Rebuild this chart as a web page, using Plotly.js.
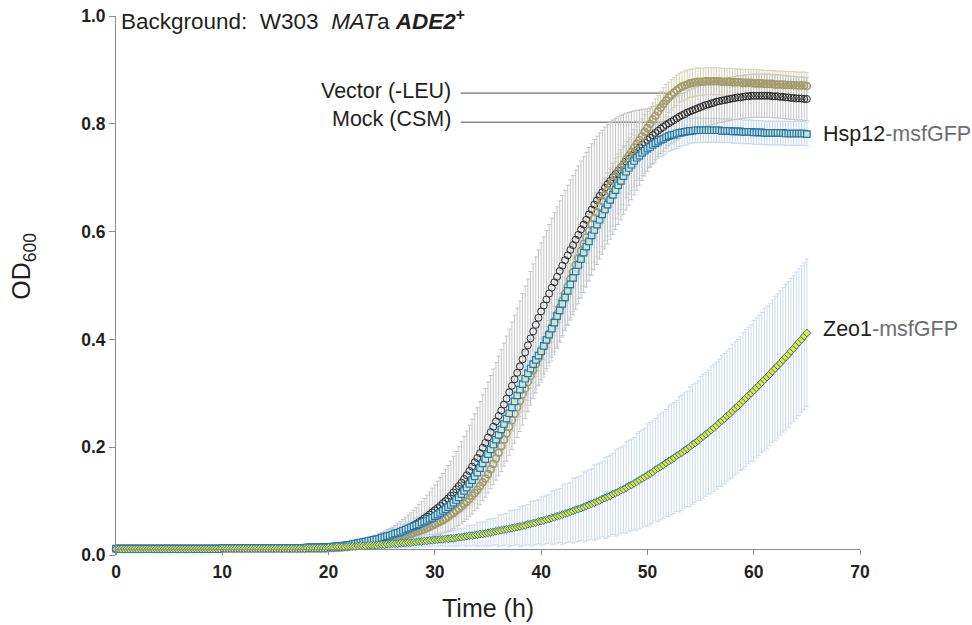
<!DOCTYPE html>
<html>
<head>
<meta charset="utf-8">
<script src="https://cdn.plot.ly/plotly-3.0.1.min.js"></script>
<style>
  html, body { margin: 0; padding: 0; background: #ffffff; }
  #chart { width: 972px; height: 625px; }
</style>
</head>
<body>
<div id="chart"></div>
<script>
// Sampling times (h), one reading every 15 min
const timeH = [
  0,0.25,0.5,0.75,1,1.25,1.5,1.75,2,2.25,2.5,2.75,3,3.25,3.5,3.75,4,4.25,4.5,4.75,
  5,5.25,5.5,5.75,6,6.25,6.5,6.75,7,7.25,7.5,7.75,8,8.25,8.5,8.75,9,9.25,9.5,9.75,
  10,10.25,10.5,10.75,11,11.25,11.5,11.75,12,12.25,12.5,12.75,13,13.25,13.5,13.75,14,14.25,14.5,14.75,
  15,15.25,15.5,15.75,16,16.25,16.5,16.75,17,17.25,17.5,17.75,18,18.25,18.5,18.75,19,19.25,19.5,19.75,
  20,20.25,20.5,20.75,21,21.25,21.5,21.75,22,22.25,22.5,22.75,23,23.25,23.5,23.75,24,24.25,24.5,24.75,
  25,25.25,25.5,25.75,26,26.25,26.5,26.75,27,27.25,27.5,27.75,28,28.25,28.5,28.75,29,29.25,29.5,29.75,
  30,30.25,30.5,30.75,31,31.25,31.5,31.75,32,32.25,32.5,32.75,33,33.25,33.5,33.75,34,34.25,34.5,34.75,
  35,35.25,35.5,35.75,36,36.25,36.5,36.75,37,37.25,37.5,37.75,38,38.25,38.5,38.75,39,39.25,39.5,39.75,
  40,40.25,40.5,40.75,41,41.25,41.5,41.75,42,42.25,42.5,42.75,43,43.25,43.5,43.75,44,44.25,44.5,44.75,
  45,45.25,45.5,45.75,46,46.25,46.5,46.75,47,47.25,47.5,47.75,48,48.25,48.5,48.75,49,49.25,49.5,49.75,
  50,50.25,50.5,50.75,51,51.25,51.5,51.75,52,52.25,52.5,52.75,53,53.25,53.5,53.75,54,54.25,54.5,54.75,
  55,55.25,55.5,55.75,56,56.25,56.5,56.75,57,57.25,57.5,57.75,58,58.25,58.5,58.75,59,59.25,59.5,59.75,
  60,60.25,60.5,60.75,61,61.25,61.5,61.75,62,62.25,62.5,62.75,63,63.25,63.5,63.75,64,64.25,64.5,64.75,
  65
];

// Mock (CSM): mean OD600 and SD
const mockOD = [
  0.012,0.012,0.012,0.012,0.012,0.012,0.012,0.012,0.012,0.012,0.012,0.012,0.012,0.012,0.012,0.012,0.012,0.012,0.012,0.012,
  0.012,0.012,0.012,0.012,0.012,0.012,0.012,0.012,0.012,0.012,0.012,0.012,0.012,0.012,0.012,0.012,0.012,0.012,0.012,0.012,
  0.013,0.013,0.013,0.013,0.013,0.013,0.013,0.013,0.013,0.013,0.013,0.013,0.013,0.013,0.013,0.013,0.013,0.013,0.013,0.013,
  0.013,0.013,0.013,0.013,0.013,0.013,0.013,0.013,0.013,0.013,0.013,0.013,
  0.014,0.014,0.014,0.014,
  0.014,0.014,0.015,0.015,
  0.015,0.015,0.016,0.016,
  0.017,0.017,0.018,0.018,
  0.019,0.020,0.021,0.021,
  0.022,0.023,0.024,0.025,
  0.026,0.027,0.028,0.030,
  0.031,0.032,0.034,0.035,
  0.037,0.039,0.041,0.043,
  0.045,0.047,0.050,0.052,
  0.055,0.058,0.061,0.064,
  0.068,0.071,0.075,0.079,
  0.083,0.087,0.091,0.096,
  0.100,0.105,0.110,0.116,
  0.122,0.128,0.134,0.141,
  0.148,0.156,0.164,0.172,
  0.180,0.189,0.199,0.208,
  0.218,0.228,0.238,0.248,
  0.258,0.268,0.279,0.290,
  0.302,0.314,0.326,0.338,
  0.350,0.363,0.376,0.389,
  0.402,0.415,0.427,0.440,
  0.452,0.463,0.474,0.485,
  0.496,0.506,0.516,0.527,
  0.537,0.547,0.556,0.566,
  0.575,0.585,0.594,0.604,
  0.613,0.622,0.632,0.641,
  0.650,0.658,0.666,0.673,
  0.681,0.688,0.694,0.701,
  0.707,0.713,0.719,0.725,
  0.730,0.735,0.741,0.746,
  0.751,0.756,0.761,0.765,
  0.770,0.774,0.779,0.783,
  0.787,0.791,0.794,0.798,
  0.801,0.804,0.807,0.810,
  0.813,0.816,0.818,0.821,
  0.823,0.825,0.827,0.829,
  0.831,0.833,0.835,0.836,
  0.838,0.839,0.841,0.842,
  0.843,0.844,0.845,0.846,
  0.847,0.848,0.849,0.849,
  0.850,0.851,0.851,0.852,
  0.852,0.852,0.852,0.852,
  0.852,0.852,0.852,0.851,
  0.851,0.851,0.850,0.850,
  0.849,0.849,0.848,0.848,
  0.847,0.847,0.847,0.846,
  0.846
];
const mockSD = [
  0.002,0.002,0.002,0.002,0.002,0.002,0.002,0.002,0.002,0.002,0.002,0.002,0.002,0.002,0.002,0.002,0.002,0.002,0.002,0.002,
  0.002,0.002,0.002,0.002,0.002,0.002,0.002,0.002,0.002,0.002,0.002,0.002,0.002,0.002,0.002,0.002,0.002,0.002,0.002,0.002,
  0.002,0.002,0.002,0.002,0.002,0.002,0.002,0.002,0.002,0.002,0.002,0.002,0.002,0.002,0.002,0.002,0.002,0.002,0.002,0.002,
  0.002,0.002,0.002,0.002,0.002,0.002,0.002,0.002,0.002,0.002,0.002,0.002,0.002,0.002,0.002,0.002,0.002,0.002,0.002,0.002,
  0.003,0.003,0.003,0.003,
  0.003,0.003,0.003,0.003,
  0.004,0.004,0.005,0.005,
  0.006,0.006,0.007,0.007,
  0.008,0.009,0.009,0.010,
  0.011,0.012,0.013,0.014,
  0.015,0.016,0.018,0.019,
  0.021,0.023,0.024,0.026,
  0.028,0.030,0.033,0.035,
  0.037,0.040,0.042,0.045,
  0.047,0.050,0.053,0.055,
  0.058,0.061,0.064,0.067,
  0.070,0.073,0.076,0.079,
  0.082,0.085,0.088,0.090,
  0.093,0.096,0.098,0.101,
  0.103,0.105,0.107,0.109,
  0.111,0.113,0.114,0.116,
  0.117,0.118,0.119,0.120,
  0.121,0.122,0.123,0.123,
  0.124,0.125,0.126,0.126,
  0.127,0.127,0.128,0.128,
  0.129,0.129,0.130,0.130,
  0.130,0.130,0.130,0.130,
  0.129,0.129,0.128,0.127,
  0.126,0.125,0.124,0.122,
  0.121,0.119,0.117,0.115,
  0.113,0.111,0.108,0.106,
  0.103,0.100,0.097,0.093,
  0.090,0.086,0.082,0.078,
  0.074,0.070,0.066,0.062,
  0.058,0.055,0.053,0.050,
  0.048,0.046,0.045,0.043,
  0.042,0.041,0.041,0.040,
  0.040,0.040,0.040,0.040,0.040,0.040,0.040,0.040,0.040,0.040,0.040,0.040,0.040,0.040,0.040,0.040,0.040,0.040,0.040,0.040,
  0.040,0.040,0.040,0.040,0.040,0.040,0.040,0.040,0.040,0.040,0.040,0.040,0.040,0.040,0.040,0.040,0.040,0.040,0.040,0.040,
  0.040,0.040,0.040,0.040,0.040,0.040,0.040,0.040,
  0.040
];

// Vector (-LEU)
const vectorOD = [
  0.011,0.011,0.011,0.011,0.011,0.011,0.011,0.011,0.011,0.011,0.011,0.011,0.011,0.011,0.011,0.011,0.011,0.011,0.011,0.011,
  0.011,0.011,0.011,0.011,0.011,0.011,0.011,0.011,0.011,0.011,0.011,0.011,0.011,0.011,0.011,0.011,0.011,0.011,0.011,0.011,
  0.012,0.012,0.012,0.012,0.012,0.012,0.012,0.012,0.012,0.012,0.012,0.012,0.012,0.012,0.012,0.012,0.012,0.012,0.012,0.012,
  0.012,0.012,0.012,0.012,0.012,0.012,0.012,0.012,0.012,0.012,0.012,0.012,0.012,0.012,0.012,0.012,0.012,0.012,0.012,0.012,
  0.013,0.013,0.013,0.013,
  0.014,0.014,0.015,0.015,
  0.016,0.017,0.017,0.018,
  0.019,0.020,0.020,0.021,
  0.022,0.023,0.024,0.024,
  0.025,0.026,0.027,0.028,
  0.029,0.030,0.032,0.033,
  0.035,0.036,0.038,0.039,
  0.041,0.043,0.044,0.046,
  0.048,0.050,0.052,0.055,
  0.057,0.060,0.062,0.065,
  0.068,0.071,0.075,0.078,
  0.082,0.086,0.090,0.095,
  0.099,0.104,0.110,0.115,
  0.121,0.128,0.135,0.142,
  0.150,0.159,0.169,0.179,
  0.190,0.202,0.214,0.226,
  0.238,0.250,0.262,0.274,
  0.286,0.298,0.309,0.321,
  0.332,0.343,0.354,0.365,
  0.376,0.387,0.399,0.410,
  0.422,0.434,0.447,0.459,
  0.472,0.485,0.498,0.512,
  0.525,0.538,0.551,0.564,
  0.577,0.589,0.601,0.613,
  0.625,0.636,0.646,0.657,
  0.667,0.676,0.685,0.694,
  0.703,0.711,0.719,0.726,
  0.734,0.741,0.748,0.756,
  0.763,0.770,0.777,0.785,
  0.792,0.800,0.808,0.815,
  0.823,0.830,0.837,0.843,
  0.849,0.854,0.858,0.862,
  0.866,0.869,0.871,0.873,
  0.875,0.876,0.877,0.878,
  0.878,0.878,0.879,0.879,
  0.879,0.879,0.879,0.879,
  0.878,0.878,0.878,0.878,
  0.877,0.877,0.877,0.877,
  0.876,0.876,0.876,0.876,
  0.875,0.875,0.875,0.875,
  0.874,0.874,0.874,0.874,
  0.873,0.873,0.873,0.873,
  0.872,0.872,0.872,0.872,
  0.871,0.871,0.871,0.871,
  0.870
];
const vectorSD = [
  0.001,0.001,0.001,0.001,0.001,0.001,0.001,0.001,0.001,0.001,0.001,0.001,0.001,0.001,0.001,0.001,0.001,0.001,0.001,0.001,
  0.001,0.001,0.001,0.001,0.001,0.001,0.001,0.001,0.001,0.001,0.001,0.001,0.001,0.001,0.001,0.001,0.001,0.001,0.001,0.001,
  0.001,0.001,0.001,0.001,0.001,0.001,0.001,0.001,0.001,0.001,0.001,0.001,0.001,0.001,0.001,0.001,0.001,0.001,0.001,0.001,
  0.001,0.001,0.001,0.001,0.001,0.001,0.001,0.001,0.001,0.001,0.001,0.001,0.001,0.001,0.001,0.001,0.001,0.001,0.001,0.001,
  0.002,0.002,0.002,0.002,0.002,0.002,0.002,0.002,0.002,0.002,0.002,0.002,0.002,0.002,0.002,0.002,0.002,0.002,0.002,0.002,
  0.003,0.003,0.003,0.003,
  0.004,0.004,0.004,0.004,
  0.005,0.005,0.005,0.005,
  0.006,0.006,0.006,0.006,
  0.007,0.007,0.007,0.007,
  0.008,0.008,0.008,0.008,
  0.009,0.009,0.009,0.009,
  0.010,0.010,0.010,0.010,
  0.012,0.012,0.012,0.012,
  0.013,0.013,0.013,0.013,
  0.015,0.015,0.015,0.015,
  0.017,0.017,0.017,0.017,
  0.019,0.019,0.019,0.019,
  0.021,0.021,0.021,0.021,
  0.023,0.023,0.023,0.023,
  0.025,0.025,0.025,0.025,
  0.027,0.027,0.027,0.027,
  0.029,0.029,0.029,0.029,
  0.030,0.030,0.030,0.030,
  0.031,0.031,0.031,0.031,
  0.032,0.032,0.032,0.032,
  0.033,0.033,0.033,0.033,
  0.033,0.033,0.033,0.033,
  0.033,0.033,0.033,0.033,
  0.032,0.032,0.032,0.032,
  0.031,0.031,0.031,0.031,
  0.030,0.030,0.030,0.030,
  0.028,0.028,0.028,0.028,
  0.027,0.027,0.027,0.027,
  0.026,0.026,0.026,0.026,
  0.025,0.025,0.025,0.025,0.025,0.025,0.025,0.025,0.025,0.025,0.025,0.025,0.025,0.025,0.025,0.025,0.025,0.025,0.025,0.025,
  0.025,0.025,0.025,0.025,0.025,0.025,0.025,0.025,0.025,0.025,0.025,0.025,0.025,0.025,0.025,0.025,0.025,0.025,0.025,0.025,
  0.025
];

// Hsp12-msfGFP
const hsp12OD = [
  0.012,0.012,0.012,0.012,0.012,0.012,0.012,0.012,0.012,0.012,0.012,0.012,0.012,0.012,0.012,0.012,0.012,0.012,0.012,0.012,
  0.012,0.012,0.012,0.012,0.012,0.012,0.012,0.012,0.012,0.012,0.012,0.012,0.012,0.012,0.012,0.012,0.012,0.012,0.012,0.012,
  0.013,0.013,0.013,0.013,0.013,0.013,0.013,0.013,0.013,0.013,0.013,0.013,0.013,0.013,0.013,0.013,0.013,0.013,0.013,0.013,
  0.013,0.013,0.013,0.013,0.013,0.013,0.013,0.013,0.013,0.013,0.013,0.013,
  0.014,0.014,0.014,0.014,
  0.014,0.014,0.014,0.014,
  0.015,0.015,0.016,0.016,
  0.017,0.017,0.018,0.018,
  0.019,0.020,0.021,0.022,
  0.023,0.024,0.025,0.026,
  0.027,0.028,0.029,0.030,
  0.032,0.033,0.035,0.036,
  0.038,0.040,0.041,0.043,
  0.045,0.047,0.049,0.051,
  0.053,0.055,0.057,0.060,
  0.062,0.064,0.067,0.069,
  0.072,0.075,0.078,0.082,
  0.085,0.089,0.093,0.097,
  0.102,0.107,0.113,0.119,
  0.125,0.132,0.139,0.146,
  0.153,0.161,0.170,0.178,
  0.187,0.196,0.205,0.214,
  0.223,0.233,0.243,0.253,
  0.263,0.274,0.285,0.296,
  0.307,0.317,0.327,0.337,
  0.346,0.354,0.362,0.370,
  0.378,0.388,0.399,0.409,
  0.420,0.431,0.443,0.454,
  0.466,0.478,0.490,0.502,
  0.514,0.526,0.538,0.549,
  0.561,0.572,0.582,0.593,
  0.603,0.613,0.622,0.632,
  0.641,0.650,0.659,0.668,
  0.677,0.686,0.694,0.703,
  0.711,0.718,0.724,0.731,
  0.737,0.741,0.746,0.750,
  0.754,0.757,0.761,0.764,
  0.767,0.770,0.772,0.775,
  0.777,0.779,0.780,0.782,
  0.783,0.784,0.785,0.786,
  0.787,0.787,0.788,0.788,
  0.788,0.788,0.788,0.788,
  0.788,0.788,0.788,0.788,
  0.787,0.787,0.787,0.787,
  0.786,0.786,0.786,0.786,
  0.785,0.785,0.785,0.785,
  0.784,0.784,0.784,0.784,
  0.783,0.783,0.783,0.783,
  0.783,0.783,0.783,0.783,
  0.782,0.782,0.782,0.782,
  0.782,0.782,0.782,0.782,
  0.781
];
const hsp12SD = [
  0.002,0.002,0.002,0.002,0.002,0.002,0.002,0.002,0.002,0.002,0.002,0.002,0.002,0.002,0.002,0.002,0.002,0.002,0.002,0.002,
  0.002,0.002,0.002,0.002,0.002,0.002,0.002,0.002,0.002,0.002,0.002,0.002,0.002,0.002,0.002,0.002,0.002,0.002,0.002,0.002,
  0.002,0.002,0.002,0.002,0.002,0.002,0.002,0.002,0.002,0.002,0.002,0.002,0.002,0.002,0.002,0.002,0.002,0.002,0.002,0.002,
  0.002,0.002,0.002,0.002,0.002,0.002,0.002,0.002,0.002,0.002,0.002,0.002,0.002,0.002,0.002,0.002,0.002,0.002,0.002,0.002,
  0.003,0.003,0.003,0.003,
  0.003,0.003,0.003,0.003,
  0.004,0.004,0.004,0.004,
  0.005,0.005,0.005,0.005,
  0.006,0.006,0.006,0.006,
  0.008,0.008,0.008,0.008,
  0.010,0.010,0.010,0.010,
  0.012,0.012,0.012,0.012,
  0.014,0.014,0.014,0.014,
  0.016,0.016,0.016,0.016,
  0.018,0.018,0.018,0.018,
  0.021,0.021,0.021,0.021,
  0.024,0.024,0.024,0.024,
  0.027,0.027,0.027,0.027,
  0.031,0.031,0.031,0.031,
  0.035,0.035,0.035,0.035,
  0.040,0.040,0.040,0.040,
  0.045,0.045,0.045,0.045,
  0.050,0.050,0.050,0.050,
  0.054,0.054,0.054,0.054,
  0.058,0.058,0.058,0.058,
  0.060,0.060,0.060,0.060,
  0.062,0.062,0.062,0.062,
  0.062,0.062,0.062,0.062,
  0.062,0.062,0.062,0.062,
  0.060,0.060,0.060,0.060,
  0.058,0.058,0.058,0.058,
  0.053,0.053,0.053,0.053,
  0.048,0.048,0.048,0.048,
  0.042,0.042,0.042,0.042,
  0.036,0.036,0.036,0.036,
  0.031,0.031,0.031,0.031,
  0.028,0.028,0.028,0.028,
  0.025,0.025,0.025,0.025,
  0.023,0.023,0.023,0.023,
  0.022,0.022,0.022,0.022,0.022,0.022,0.022,0.022,0.022,0.022,0.022,0.022,0.022,0.022,0.022,0.022,0.022,0.022,0.022,0.022,
  0.022,0.022,0.022,0.022,0.022,0.022,0.022,0.022,0.022,0.022,0.022,0.022,0.022,0.022,0.022,0.022,0.022,0.022,0.022,0.022,
  0.022
];

// Zeo1-msfGFP
const zeo1OD = [
  0.011,0.011,0.011,0.011,0.011,0.011,0.011,0.011,0.011,0.011,0.011,0.011,0.011,0.011,0.011,0.011,0.011,0.011,0.011,0.011,
  0.011,0.011,0.011,0.011,0.011,0.011,0.011,0.011,0.011,0.011,0.011,0.011,0.011,0.011,0.011,0.011,0.011,0.011,0.011,0.011,
  0.012,0.012,0.012,0.012,0.012,0.012,0.012,0.012,0.012,0.012,0.012,0.012,0.012,0.012,0.012,0.012,0.012,0.012,0.012,0.012,
  0.012,0.012,0.012,0.012,0.012,0.012,0.012,0.012,0.012,0.012,0.012,0.012,
  0.013,0.013,0.013,0.013,
  0.013,0.013,0.013,0.013,
  0.014,0.014,0.014,0.015,
  0.015,0.015,0.015,0.016,
  0.016,0.016,0.016,0.017,
  0.017,0.017,0.017,0.018,
  0.018,0.018,0.018,0.019,
  0.019,0.019,0.020,0.020,
  0.021,0.021,0.021,0.022,
  0.022,0.022,0.023,0.023,
  0.024,0.024,0.025,0.025,
  0.026,0.026,0.027,0.027,
  0.028,0.028,0.029,0.029,
  0.030,0.030,0.031,0.031,
  0.032,0.033,0.033,0.034,
  0.035,0.036,0.036,0.037,
  0.038,0.039,0.039,0.040,
  0.041,0.042,0.043,0.044,
  0.045,0.046,0.047,0.048,
  0.049,0.050,0.051,0.052,
  0.053,0.054,0.055,0.057,
  0.058,0.059,0.060,0.062,
  0.063,0.064,0.066,0.067,
  0.069,0.070,0.072,0.073,
  0.075,0.077,0.078,0.080,
  0.082,0.084,0.085,0.087,
  0.089,0.091,0.093,0.095,
  0.097,0.099,0.101,0.104,
  0.106,0.108,0.110,0.113,
  0.115,0.117,0.120,0.122,
  0.125,0.128,0.130,0.133,
  0.136,0.139,0.142,0.145,
  0.148,0.151,0.154,0.158,
  0.161,0.164,0.167,0.171,
  0.174,0.177,0.180,0.184,
  0.187,0.190,0.194,0.197,
  0.201,0.205,0.208,0.212,
  0.216,0.220,0.224,0.228,
  0.232,0.236,0.240,0.245,
  0.249,0.253,0.258,0.262,
  0.267,0.272,0.276,0.281,
  0.286,0.291,0.296,0.300,
  0.305,0.310,0.315,0.320,
  0.325,0.330,0.335,0.341,
  0.346,0.351,0.356,0.362,
  0.367,0.372,0.378,0.383,
  0.389,0.395,0.400,0.406,
  0.412
];
const zeo1SD = [
  0.002,0.002,0.002,0.002,0.002,0.002,0.002,0.002,0.002,0.002,0.002,0.002,0.002,0.002,0.002,0.002,0.002,0.002,0.002,0.002,
  0.002,0.002,0.002,0.002,0.002,0.002,0.002,0.002,0.002,0.002,0.002,0.002,0.002,0.002,0.002,0.002,0.002,0.002,0.002,0.002,
  0.002,0.002,0.002,0.002,0.002,0.002,0.002,0.002,0.002,0.002,0.002,0.002,0.002,0.002,0.002,0.002,0.002,0.002,0.002,0.002,
  0.002,0.002,0.002,0.002,0.002,0.002,0.002,0.002,0.002,0.002,0.002,0.002,0.002,0.002,0.002,0.002,0.002,0.002,0.002,0.002,
  0.003,0.003,0.003,0.003,
  0.003,0.003,0.003,0.003,
  0.004,0.004,0.004,0.004,
  0.005,0.005,0.005,0.005,
  0.006,0.006,0.006,0.006,
  0.007,0.007,0.007,0.007,
  0.008,0.008,0.008,0.008,
  0.009,0.009,0.009,0.009,
  0.010,0.010,0.010,0.010,
  0.011,0.011,0.011,0.011,
  0.012,0.012,0.012,0.012,
  0.014,0.014,0.014,0.014,
  0.016,0.016,0.016,0.016,
  0.019,0.019,0.019,0.019,
  0.022,0.022,0.022,0.022,
  0.025,0.025,0.025,0.025,
  0.029,0.029,0.029,0.029,
  0.033,0.033,0.033,0.033,
  0.037,0.037,0.037,0.037,
  0.041,0.041,0.041,0.041,
  0.045,0.045,0.045,0.045,
  0.050,0.050,0.050,0.050,
  0.055,0.055,0.055,0.055,
  0.060,0.060,0.060,0.060,
  0.065,0.065,0.065,0.065,
  0.070,0.070,0.070,0.070,
  0.075,0.075,0.075,0.075,
  0.080,0.080,0.080,0.080,
  0.085,0.085,0.085,0.085,
  0.090,0.090,0.090,0.090,
  0.095,0.095,0.095,0.095,
  0.099,0.099,0.099,0.099,
  0.103,0.103,0.103,0.103,
  0.107,0.107,0.107,0.107,
  0.111,0.111,0.111,0.111,
  0.115,0.115,0.115,0.115,
  0.118,0.118,0.118,0.118,
  0.121,0.121,0.121,0.121,
  0.124,0.124,0.124,0.124,
  0.127,0.127,0.127,0.127,
  0.130,0.130,0.130,0.130,
  0.132,0.132,0.132,0.132,
  0.134,0.134,0.134,0.134,
  0.135,0.135,0.135,0.135,
  0.136,0.136,0.136,0.136,
  0.137
];

// Axis ticks
const xTickVals = [0, 10, 20, 30, 40, 50, 60, 70];
const yTickVals = [0, 0.2, 0.4, 0.6, 0.8, 1.0];
const yTickText = ['0.0', '0.2', '0.4', '0.6', '0.8', '1.0'];

const FONT = '"Liberation Sans", Arial, Helvetica, sans-serif';
const INK = '#231f20';
const AXIS_GREY = '#8c8c8c';
const GFP_GREY = '#6d6e71';
const NB = '\u00a0';

// Error bars are drawn as their own traces so that every marker sits above them
function sdTrace(y, sd, color) {
  return {
    x: timeH, y: y, type: 'scatter', mode: 'markers',
    marker: { size: 1, color: 'rgba(0,0,0,0)' },
    error_y: { type: 'data', array: sd, visible: true, color: color, thickness: 1, width: 2 },
    hoverinfo: 'skip', showlegend: false, cliponaxis: false
  };
}
function meanTrace(name, y, marker) {
  return {
    x: timeH, y: y, name: name, type: 'scatter', mode: 'markers',
    marker: marker, showlegend: false, cliponaxis: false
  };
}

const traces = [
  sdTrace(zeo1OD, zeo1SD, '#cddcf0'),
  sdTrace(hsp12OD, hsp12SD, '#c6d8ee'),
  sdTrace(vectorOD, vectorSD, '#d8d3b2'),
  sdTrace(mockOD, mockSD, '#c4c4c4'),
  meanTrace('Mock (CSM)', mockOD,
    { symbol: 'circle-open', size: 7, color: '#2b2829', line: { width: 1 } }),
  meanTrace('Vector (-LEU)', vectorOD,
    { symbol: 'circle-open', size: 7, color: '#a29c6c', line: { width: 1.6 } }),
  meanTrace('Hsp12-msfGFP', hsp12OD,
    { symbol: 'square', size: 6.5, color: '#cfe5c4', line: { color: '#1f74ba', width: 1.2 } }),
  meanTrace('Zeo1-msfGFP', zeo1OD,
    { symbol: 'diamond', size: 6, color: '#f2e424', line: { color: '#1f78c4', width: 1 } })
];

const labelFont = { family: FONT, size: 21.5, color: INK };

const layout = {
  width: 972, height: 625,
  margin: { l: 116, r: 112, t: 16, b: 70, pad: 0 },
  paper_bgcolor: '#ffffff', plot_bgcolor: '#ffffff',
  showlegend: false,
  font: { family: FONT, color: INK },
  xaxis: {
    range: [0, 70], tickvals: xTickVals,
    ticks: 'outside', ticklen: 5, tickwidth: 1, tickcolor: AXIS_GREY,
    showline: true, linecolor: AXIS_GREY, linewidth: 1,
    showgrid: false, zeroline: false,
    anchor: 'free', position: 0.0106,
    ticklabelstandoff: 2,
    tickfont: { family: FONT, size: 17.5, weight: 'bold', color: INK }
  },
  yaxis: {
    range: [0, 1], tickvals: yTickVals, ticktext: yTickText,
    ticks: 'outside', ticklen: 6, tickwidth: 1, tickcolor: AXIS_GREY,
    showline: true, linecolor: AXIS_GREY, linewidth: 1,
    showgrid: false, zeroline: false,
    tickfont: { family: FONT, size: 17.5, weight: 'bold', color: INK }
  },
  shapes: [
    { type: 'line', xref: 'x', yref: 'y', x0: 32.43, x1: 52.1, y0: 0.857, y1: 0.857,
      line: { color: '#4d4d4d', width: 1 }, layer: 'below' },
    { type: 'line', xref: 'x', yref: 'y', x0: 32.43, x1: 52.0, y0: 0.803, y1: 0.803,
      line: { color: '#4d4d4d', width: 1 }, layer: 'below' }
  ],
  annotations: [
    // axis titles
    { xref: 'paper', yref: 'paper', x: 0.5, y: -0.098, xanchor: 'center', yanchor: 'middle',
      showarrow: false, font: { family: FONT, size: 25, color: INK }, text: 'Time (h)' },
    { xref: 'paper', yref: 'paper', x: -0.125, y: 0.535, xanchor: 'center', yanchor: 'middle',
      textangle: -90, showarrow: false, font: { family: FONT, size: 25, color: INK },
      text: 'OD<sub>600</sub>' },
    // strain background
    { xref: 'paper', yref: 'paper', x: 0.004, y: 0.992, xanchor: 'left', yanchor: 'middle',
      showarrow: false, font: { family: FONT, size: 22.5, color: INK },
      text: 'Background:' + NB + ' W303' + NB + ' <i>MAT</i>a <b><i>ADE2</i></b><sup><b>+</b></sup>' },
    // series labels
    { xref: 'x', yref: 'y', x: 31.71, y: 0.860, xanchor: 'right', yanchor: 'middle',
      showarrow: false, font: labelFont, text: 'Vector (-LEU)' },
    { xref: 'x', yref: 'y', x: 31.71, y: 0.808, xanchor: 'right', yanchor: 'middle',
      showarrow: false, font: labelFont, text: 'Mock (CSM)' },
    { xref: 'x', yref: 'y', x: 66.35, y: 0.782, xanchor: 'left', yanchor: 'middle',
      showarrow: false, font: labelFont,
      text: 'Hsp12<span style="color:' + GFP_GREY + '">-msfGFP</span>' },
    { xref: 'x', yref: 'y', x: 66.35, y: 0.420, xanchor: 'left', yanchor: 'middle',
      showarrow: false, font: labelFont,
      text: 'Zeo1<span style="color:' + GFP_GREY + '">-msfGFP</span>' }
  ]
};

Plotly.newPlot('chart', traces, layout, { displayModeBar: false, staticPlot: true });
</script>
</body>
</html>
